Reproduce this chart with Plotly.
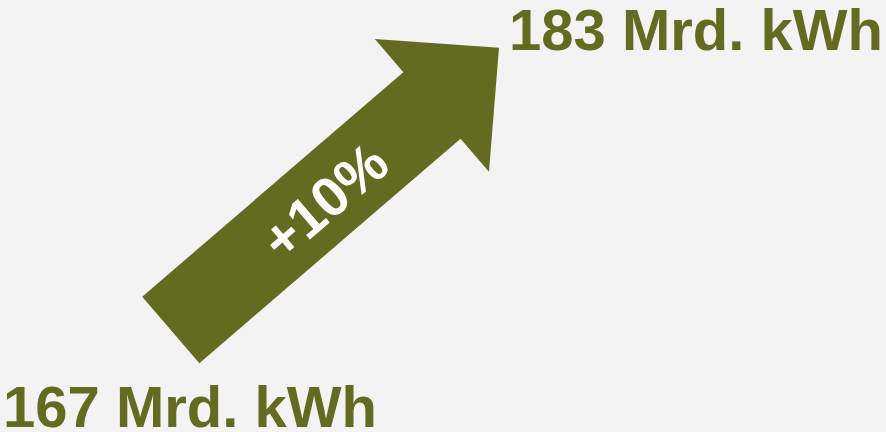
import math
import plotly.graph_objects as go

# ---- data ----
start_value = 167          # Mrd. kWh
end_value = 183            # Mrd. kWh
unit = "Mrd. kWh"
change_pct = round((end_value - start_value) / start_value * 100)

# ---- styling / geometry (pixels, y downward) ----
W, H = 886, 432
BG = "#f3f3f3"
OLIVE = "#636b21"
FONT = "Liberation Sans, Arial, Helvetica, sans-serif"

tail = (170.8, 330.0)
tip = (499.0, 47.7)
shaft_w = 87.7
head_w = 175.0
head_len = 88.5

dx, dy = tip[0] - tail[0], tip[1] - tail[1]
L = math.hypot(dx, dy)
ux, uy = dx / L, dy / L
px, py = -uy, ux  # perpendicular


def pt(t, s):
    return (tail[0] + ux * t + px * s, tail[1] + uy * t + py * s)


base_t = L - head_len
verts = [
    pt(0, -shaft_w / 2),
    pt(base_t, -shaft_w / 2),
    pt(base_t, -head_w / 2),
    pt(L, 0),
    pt(base_t, head_w / 2),
    pt(base_t, shaft_w / 2),
    pt(0, shaft_w / 2),
]
path = "M " + " L ".join(f"{x:.2f},{y:.2f}" for x, y in verts) + " Z"

angle = math.degrees(math.atan2(dy, dx))

fig = go.Figure()
fig.add_trace(go.Scatter(x=[0, W], y=[0, H], mode="markers",
                         marker=dict(opacity=0), hoverinfo="skip", showlegend=False))

fig.add_shape(type="path", path=path, xref="x", yref="y",
              fillcolor=OLIVE, line=dict(width=0), layer="below")

fig.add_annotation(x=2, y=406, xref="x", yref="y", text=f"<b>{start_value} {unit}</b>",
                   showarrow=False, xanchor="left", yanchor="middle",
                   font=dict(family=FONT, size=58, color=OLIVE), borderpad=0)
fig.add_annotation(x=884, y=29, xref="x", yref="y", text=f"<b>{end_value} {unit}</b>",
                   showarrow=False, xanchor="right", yanchor="middle",
                   font=dict(family=FONT, size=58, color=OLIVE), borderpad=0)
fig.add_annotation(x=324, y=201, xref="x", yref="y", text=f"<b>+{change_pct}%</b>",
                   showarrow=False, textangle=angle,
                   font=dict(family=FONT, size=56, color="white"))

fig.update_layout(
    width=W, height=H,
    margin=dict(l=0, r=0, t=0, b=0),
    paper_bgcolor=BG, plot_bgcolor=BG,
    xaxis=dict(range=[0, W], visible=False, fixedrange=True),
    yaxis=dict(range=[H, 0], visible=False, fixedrange=True),
    showlegend=False,
)
fig.write_html("out.html", config={"displayModeBar": False},
               post_script="document.body.style.margin='0';document.body.style.overflow='hidden';")
